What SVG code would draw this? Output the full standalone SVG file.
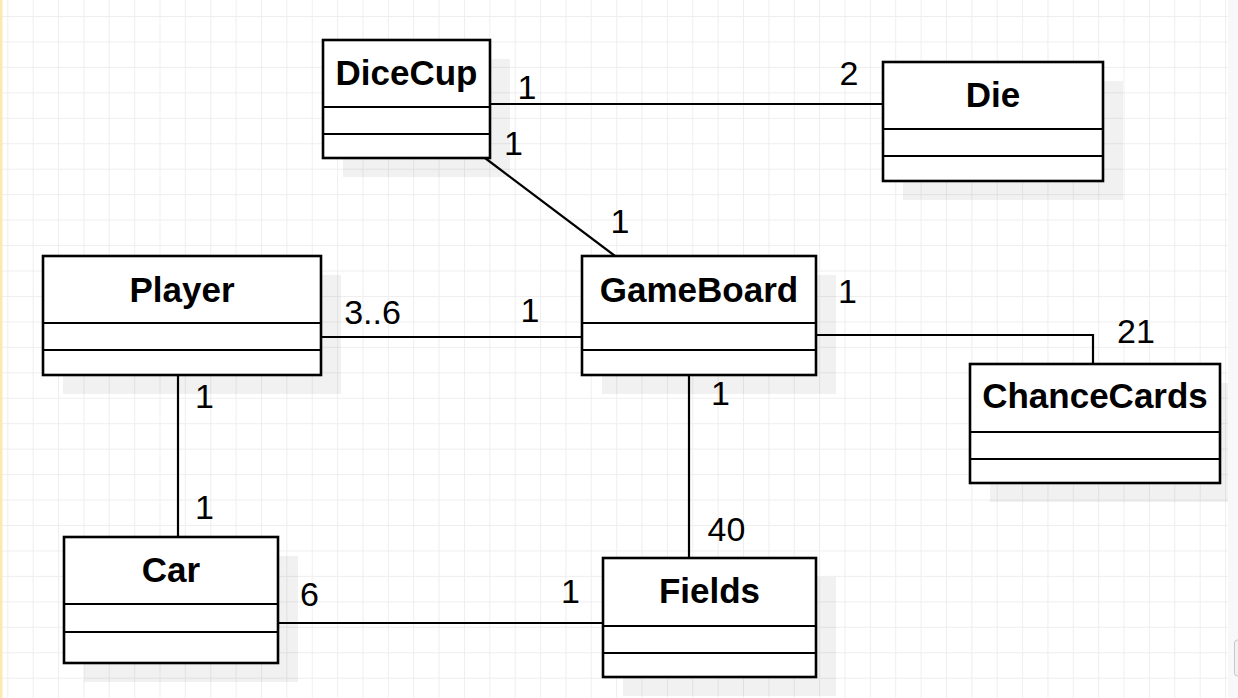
<svg xmlns="http://www.w3.org/2000/svg" width="1238" height="698" viewBox="0 0 1238 698">
  <defs>
    <pattern id="grid" x="7.3" y="16" width="25.37" height="25.45" patternUnits="userSpaceOnUse">
      <path d="M0.5 0 V25.45 M0 0.5 H25.37" fill="none" stroke="#eeeeee" stroke-width="1"/>
    </pattern>
    <style>
      .box { fill: #ffffff; stroke: #000000; stroke-width: 2.6; }
      .shadow { fill: #000000; fill-opacity: 0.055; }
      .div { stroke: #000000; stroke-width: 2.2; }
      .conn { fill: none; stroke: #000000; stroke-width: 2.2; }
      .title { font-family: "Liberation Sans", Arial, sans-serif; font-weight: bold; font-size: 35px; text-anchor: middle; fill: #000000; }
      .lbl { font-family: "Liberation Sans", Arial, sans-serif; font-size: 34px; text-anchor: middle; fill: #000000; }
    </style>
  </defs>

  <rect x="0" y="0" width="1238" height="698" fill="#ffffff"/>
  <rect x="0" y="0" width="1228" height="698" fill="url(#grid)"/>
  <rect x="0" y="0" width="2.5" height="698" fill="#fde8ae"/>
  <rect x="1228" y="0" width="10" height="698" fill="#f8f8fa"/>
  <rect x="1234.5" y="640" width="8" height="36" rx="3" fill="#f2f2f2" stroke="#c8c8c8" stroke-width="1"/>

  <g id="connectors">
    <path class="conn" d="M490 104 H883"/>
    <path class="conn" d="M485 158 L615 256"/>
    <path class="conn" d="M321 337 H582"/>
    <path class="conn" d="M816 335 H1093 V364"/>
    <path class="conn" d="M689 375 V558"/>
    <path class="conn" d="M178 375 V537"/>
    <path class="conn" d="M278 623 H603"/>
  </g>

  <g id="labels">
    <text class="lbl" x="527" y="99">1</text>
    <text class="lbl" x="849" y="85">2</text>
    <text class="lbl" x="513.5" y="155">1</text>
    <text class="lbl" x="620" y="233">1</text>
    <text class="lbl" x="372.5" y="324">3..6</text>
    <text class="lbl" x="530" y="322">1</text>
    <text class="lbl" x="847.5" y="303">1</text>
    <text class="lbl" x="1136" y="343">21</text>
    <text class="lbl" x="720.5" y="405">1</text>
    <text class="lbl" x="204.5" y="408">1</text>
    <text class="lbl" x="204.5" y="519">1</text>
    <text class="lbl" x="309.5" y="606">6</text>
    <text class="lbl" x="570.5" y="603">1</text>
    <text class="lbl" x="726.5" y="541">40</text>
  </g>

  <g id="DiceCup">
    <rect class="shadow" x="343" y="59" width="167" height="118"/>
    <rect class="box" x="323" y="40" width="167" height="118"/>
    <line class="div" x1="323" y1="107" x2="490" y2="107"/>
    <line class="div" x1="323" y1="134" x2="490" y2="134"/>
    <text class="title" x="406.5" y="85">DiceCup</text>
  </g>

  <g id="Die">
    <rect class="shadow" x="903" y="81" width="220" height="119"/>
    <rect class="box" x="883" y="62" width="220" height="119"/>
    <line class="div" x1="883" y1="129" x2="1103" y2="129"/>
    <line class="div" x1="883" y1="156" x2="1103" y2="156"/>
    <text class="title" x="993" y="107">Die</text>
  </g>

  <g id="Player">
    <rect class="shadow" x="63" y="275" width="278" height="119"/>
    <rect class="box" x="43" y="256" width="278" height="119"/>
    <line class="div" x1="43" y1="323" x2="321" y2="323"/>
    <line class="div" x1="43" y1="350" x2="321" y2="350"/>
    <text class="title" x="182" y="302">Player</text>
  </g>

  <g id="GameBoard">
    <rect class="shadow" x="602" y="275" width="234" height="119"/>
    <rect class="box" x="582" y="256" width="234" height="119"/>
    <line class="div" x1="582" y1="323" x2="816" y2="323"/>
    <line class="div" x1="582" y1="350" x2="816" y2="350"/>
    <text class="title" x="699" y="302">GameBoard</text>
  </g>

  <g id="ChanceCards">
    <rect class="shadow" x="990" y="383" width="238" height="119"/>
    <rect class="box" x="970" y="364" width="250" height="119"/>
    <line class="div" x1="970" y1="432" x2="1220" y2="432"/>
    <line class="div" x1="970" y1="459" x2="1220" y2="459"/>
    <text class="title" x="1095" y="408">ChanceCards</text>
  </g>

  <g id="Car">
    <rect class="shadow" x="84" y="556" width="214" height="126"/>
    <rect class="box" x="64" y="537" width="214" height="126"/>
    <line class="div" x1="64" y1="604" x2="278" y2="604"/>
    <line class="div" x1="64" y1="632" x2="278" y2="632"/>
    <text class="title" x="171" y="582">Car</text>
  </g>

  <g id="Fields">
    <rect class="shadow" x="623" y="577" width="213" height="119"/>
    <rect class="box" x="603" y="558" width="213" height="119"/>
    <line class="div" x1="603" y1="626" x2="816" y2="626"/>
    <line class="div" x1="603" y1="653" x2="816" y2="653"/>
    <text class="title" x="709.5" y="603">Fields</text>
  </g>
</svg>
